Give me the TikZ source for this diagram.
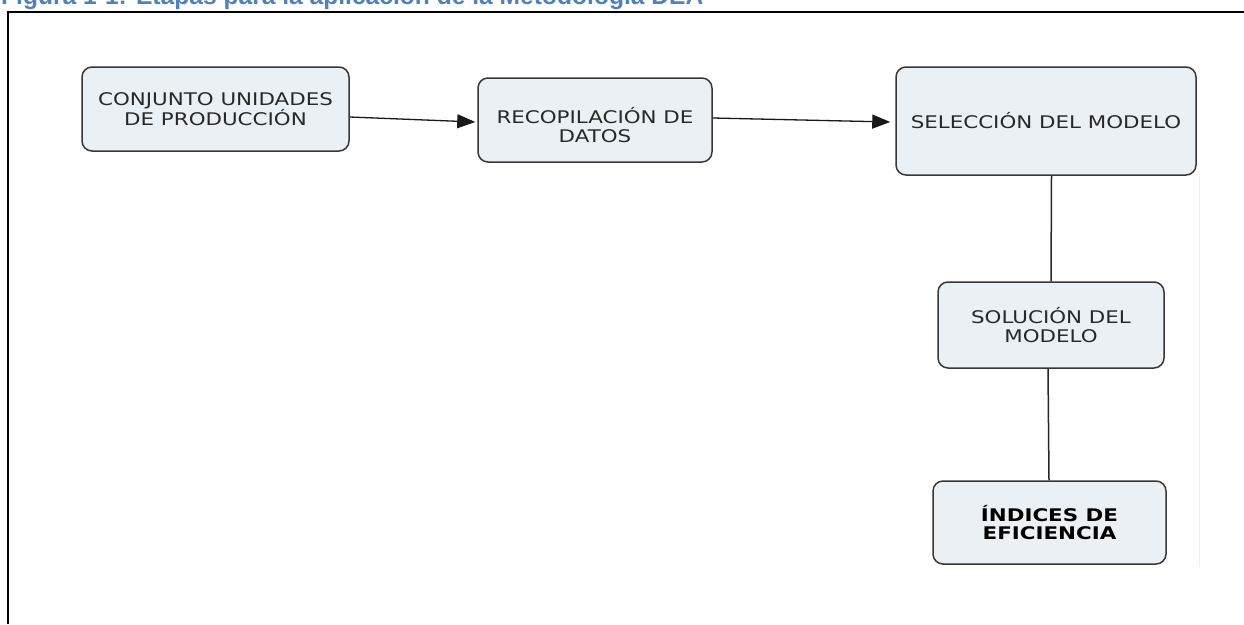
\documentclass[tikz,border=0pt]{standalone}
\usepackage{fontspec}
\usetikzlibrary{arrows.meta,calc}
\setmainfont{Liberation Sans}
\newfontfamily\boxfont[FakeStretch=1.23]{DejaVu Sans}
\definecolor{capblue}{RGB}{79,129,189}
\definecolor{boxfill}{RGB}{234,240,243}
\definecolor{boxline}{RGB}{55,55,55}
\definecolor{boxtext}{RGB}{40,40,40}
\tikzset{
  stage/.style={draw=boxline, line width=1.5pt, fill=boxfill, rounded corners=10pt,
    align=center, inner sep=0pt, text=boxtext,
    font=\boxfont\fontsize{17.4}{18.7}\selectfont},
  stagetext/.style={align=center, inner sep=0pt, text=boxtext,
    font=\boxfont\fontsize{17.4}{18.7}\selectfont},
  flow/.style={draw=black!90, line width=1.3pt,
    -{Triangle[length=18pt,width=14pt]}},
  link/.style={draw=black!85, line width=1.5pt},
}
\begin{document}
\begin{tikzpicture}[x=1pt,y=-1pt]
\clip (0,0) rectangle (1244,624);
\fill[white] (0,0) rectangle (1244,624);

% caption (top part lies above the page)
\node[anchor=base west, inner sep=0pt, text=capblue,
  font=\bfseries\fontsize{24.6}{28}\selectfont] (cap) at (1,4)
  {Figura 1-1: Etapas para la aplicación de la Metodología DEA};

% frame
\draw[line width=2pt] (8.3,624) -- (8.3,11.8) -- (1244,11.8);

% faint edge to the right of the vertical chain
\draw[black!6, line width=1pt] (1199,176) -- (1199,567);

% stages
\node[stage, minimum width=267pt, minimum height=84pt] (b1) at (215.5,109)
  {CONJUNTO UNIDADES\\DE PRODUCCIÓN};
\node[stage, minimum width=234pt, minimum height=84pt] (b2) at (595,120) {};
\node[stagetext] (b2t) at ($(b2.center)+(0,5)$) {RECOPILACIÓN DE\\DATOS};
\node[stage, minimum width=300pt, minimum height=108pt] (b3) at (1046,121)
  {SELECCIÓN DEL MODELO};
\node[stage, minimum width=226pt, minimum height=86pt] (b4) at (1051,325)
  {SOLUCIÓN DEL\\MODELO};
\node[stage, minimum width=233pt, minimum height=83pt, text=black,
  font=\boxfont\bfseries\fontsize{17.4}{18.7}\selectfont] (b5) at (1049.5,522.5)
  {ÍNDICES DE\\EFICIENCIA};

% connectors
\draw[flow] ($(b1.east)+(0,8)$) -- ($(b2.west)+(-2,2)$);
\draw[flow] ($(b2.east)+(0,-2)$) -- ($(b3.west)+(-5,1)$);
\draw[link] ($(b3.south)+(5.5,0)$) -- ($(b4.north)+(0,0)$);
\draw[link] ($(b4.south)+(-3,0)$) -- ($(b5.north)+(-0.5,0)$);
\end{tikzpicture}
\end{document}
